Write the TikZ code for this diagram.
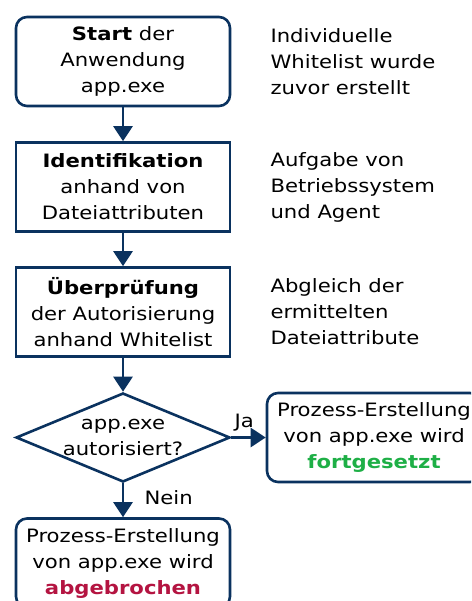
\documentclass[tikz,border=0pt]{standalone}
\usepackage{fontspec}
\setmainfont[FakeStretch=1.15]{DejaVu Sans}
\usetikzlibrary{shapes.geometric,arrows.meta}
\definecolor{navy}{RGB}{10,50,95}
\definecolor{okgreen}{RGB}{30,175,70}
\definecolor{stopred}{RGB}{180,20,65}
\begin{document}
\begin{tikzpicture}[x=1pt,y=-1pt,
  every node/.style={font=\fontsize{18.4}{26}\selectfont, align=center},
  stepbox/.style={draw=navy, line width=2.6pt, minimum width=214pt, minimum height=89pt, inner sep=0pt},
  roundbox/.style={stepbox, rounded corners=11pt},
  decision/.style={draw=navy, line width=2.6pt, diamond, minimum width=214pt, minimum height=89pt, inner sep=0pt},
  note/.style={anchor=west, align=left},
  flow/.style={draw=navy, line width=2.6pt, -{Triangle[length=15pt,width=19pt]}}]
\clip (0,0) rectangle (471,601);
\fill[white] (0,0) rectangle (471,601);
% main column
\node[roundbox] (start) at (123,61.5) {\textbf{Start} der\\Anwendung\\app.exe};
\node[stepbox] (ident) at (123,187) {\textbf{Identifikation}\\anhand von\\Dateiattributen};
\node[stepbox] (check) at (123,312) {\textbf{Überprüfung}\\der Autorisierung\\anhand Whitelist};
\node[decision, shape aspect=2.4] (auth) at (123,437.5) {app.exe\\autorisiert?};
\node[roundbox] (go) at (374,437.5) {Prozess-Erstellung\\von app.exe wird\\\textcolor{okgreen}{\textbf{fortgesetzt}}};
\node[roundbox] (stop) at (123,563) {Prozess-Erstellung\\von app.exe wird\\\textcolor{stopred}{\textbf{abgebrochen}}};
% side notes
\node[note] (n1) at (267,62) {Individuelle\\Whitelist wurde\\zuvor erstellt};
\node[note] (n2) at (267,187) {Aufgabe von\\Betriebssystem\\und Agent};
\node[note] (n3) at (267,312) {Abgleich der\\ermittelten\\Dateiattribute};
% connectors
\draw[flow] (start) -- (ident);
\draw[flow] (ident) -- (check);
\draw[flow] (check) -- (auth);
\draw[flow] (auth) -- node[pos=0, anchor=south west, xshift=1pt, yshift=4pt, inner sep=1pt] (ja) {Ja} (go);
\draw[flow] (auth) -- node[pos=0.45, anchor=west, xshift=17pt, yshift=1pt] (nein) {Nein} (stop);
\end{tikzpicture}
\end{document}
